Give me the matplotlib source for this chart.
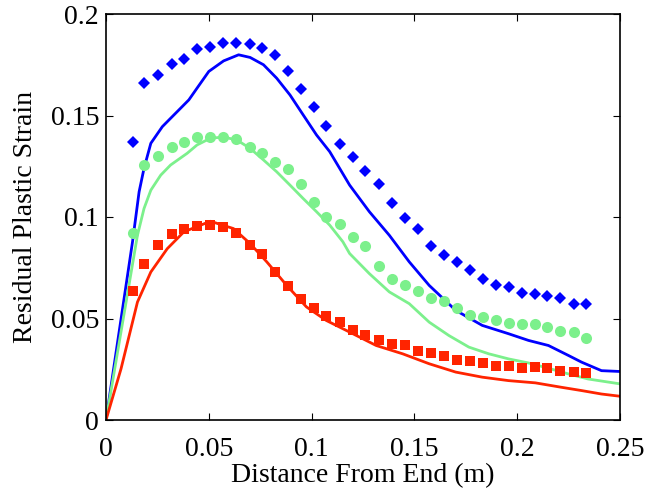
import matplotlib
matplotlib.use('Agg')
import matplotlib.pyplot as plt

plt.rcParams['font.family'] = ['Liberation Serif', 'DejaVu Serif']

# measured points (markers), shared x positions
x_pts = [0.0129, 0.0185, 0.0253, 0.0319, 0.0379, 0.0443, 0.0508, 0.0569, 0.0633,
         0.0698, 0.0758, 0.0820, 0.0883, 0.0948, 0.1012, 0.1072, 0.1136, 0.1201,
         0.1262, 0.1326, 0.1391, 0.1454, 0.1518, 0.1581, 0.1643, 0.1706, 0.1768,
         0.1833, 0.1897, 0.1958, 0.2021, 0.2088, 0.2147, 0.2210, 0.2278, 0.2337]
blue_pts = [0.137, 0.166, 0.170, 0.1755, 0.178, 0.1826, 0.1839, 0.1855, 0.1855,
            0.1850, 0.1832, 0.1797, 0.1717, 0.1633, 0.1541, 0.1450, 0.1358, 0.1294,
            0.1226, 0.1165, 0.1067, 0.0993, 0.0940, 0.0856, 0.0811, 0.0777, 0.0741,
            0.0693, 0.0667, 0.0655, 0.0626, 0.0619, 0.0612, 0.0602, 0.0569, 0.0571]
green_pts = [0.0923, 0.1256, 0.1300, 0.1343, 0.1371, 0.1394, 0.1394, 0.1394, 0.1383,
             0.1347, 0.1317, 0.1273, 0.1238, 0.1165, 0.1075, 0.1001, 0.0964, 0.0900,
             0.0856, 0.0759, 0.0693, 0.0663, 0.0634, 0.0602, 0.0584, 0.0550, 0.0517,
             0.0505, 0.0492, 0.0480, 0.0474, 0.0474, 0.0456, 0.0438, 0.0433, 0.0406]
red_pts = [0.0634, 0.0770, 0.0861, 0.0915, 0.0943, 0.0956, 0.0960, 0.0953, 0.0923,
           0.0861, 0.0820, 0.0729, 0.0660, 0.0594, 0.0553, 0.0510, 0.0485, 0.0444,
           0.0420, 0.0394, 0.0372, 0.0367, 0.0342, 0.0331, 0.0313, 0.0298, 0.0293,
           0.0283, 0.0268, 0.0268, 0.0257, 0.0260, 0.0255, 0.0239, 0.0235, 0.0231]

# simulated curves
blue_x = [0, 0.0129, 0.0161, 0.0185, 0.0218, 0.0274, 0.0314, 0.0363, 0.0403, 0.0443,
          0.0500, 0.0572, 0.0645, 0.0701, 0.0766, 0.0830, 0.0895, 0.0959, 0.1024,
          0.1088, 0.1185, 0.1281, 0.1378, 0.1475, 0.1572, 0.1701, 0.1830, 0.1958,
          0.2055, 0.2152, 0.2249, 0.2313, 0.2410, 0.2500]
blue_y = [0, 0.0878, 0.1124, 0.1240, 0.1363, 0.1445, 0.1486, 0.1536, 0.1577, 0.1635,
          0.1717, 0.1769, 0.1799, 0.1786, 0.1750, 0.1684, 0.1601, 0.1503, 0.1404,
          0.1322, 0.1157, 0.1026, 0.0910, 0.0779, 0.0663, 0.0540, 0.0466, 0.0425,
          0.0392, 0.0367, 0.0318, 0.0285, 0.0243, 0.0239]
green_x = [0, 0.0153, 0.0185, 0.0218, 0.0266, 0.0314, 0.0395, 0.0443, 0.0508, 0.0572,
           0.0637, 0.0701, 0.0766, 0.0830, 0.0895, 0.0959, 0.1024, 0.1088, 0.1152,
           0.1185, 0.1281, 0.1378, 0.1475, 0.1572, 0.1668, 0.1765, 0.1862, 0.1958,
           0.2055, 0.2152, 0.2249, 0.2345, 0.2500]
green_y = [0, 0.0910, 0.1042, 0.1132, 0.1206, 0.1256, 0.1314, 0.1355, 0.1388, 0.1394,
           0.1379, 0.1338, 0.1281, 0.1223, 0.1157, 0.1091, 0.1026, 0.0960, 0.0878,
           0.0820, 0.0721, 0.0631, 0.0573, 0.0482, 0.0416, 0.0359, 0.0326, 0.0301,
           0.0281, 0.0255, 0.0227, 0.0202, 0.0178]
red_x = [0, 0.0073, 0.0153, 0.0218, 0.0298, 0.0379, 0.0508, 0.0620, 0.0701, 0.0782,
         0.0879, 0.0975, 0.1072, 0.1185, 0.1314, 0.1443, 0.1572, 0.1701, 0.1830,
         0.1958, 0.2088, 0.2216, 0.2313, 0.2410, 0.2500]
red_y = [0, 0.0252, 0.0581, 0.0729, 0.0844, 0.0927, 0.0979, 0.0943, 0.0869, 0.0779,
         0.0663, 0.0557, 0.0490, 0.0433, 0.0367, 0.0326, 0.0277, 0.0236, 0.0211,
         0.0194, 0.0183, 0.0161, 0.0145, 0.0128, 0.0117]

BLUE = '#0000ff'
GREEN = '#7cf08c'
RED = '#ff2400'

fig = plt.figure(figsize=(6.6, 4.91), dpi=100)
ax = fig.add_axes([106/660, 1-420/491, (620-106)/660, (420-14)/491])

ax.plot(blue_x, blue_y, color=BLUE, lw=2.0)
ax.plot(green_x, green_y, color=GREEN, lw=2.0)
ax.plot(red_x, red_y, color=RED, lw=2.0)
ax.plot(x_pts, blue_pts, 'D', color=BLUE, ms=6.5, mew=0)
ax.plot(x_pts, green_pts, 'o', color=GREEN, ms=8, mew=0)
ax.plot(x_pts, red_pts, 's', color=RED, ms=7, mew=0)

ax.set_xlim(0, 0.25)
ax.set_ylim(0, 0.2)
ax.set_xticks([0, 0.05, 0.1, 0.15, 0.2, 0.25])
ax.set_xticklabels(['0', '0.05', '0.1', '0.15', '0.2', '0.25'])
ax.set_yticks([0, 0.05, 0.1, 0.15, 0.2])
ax.set_yticklabels(['0', '0.05', '0.1', '0.15', '0.2'])
ax.tick_params(direction='in', top=True, right=True, length=5, width=0.8,
               labelsize=20)
ax.tick_params(axis='x', pad=12)
ax.tick_params(axis='y', pad=5)
for s in ax.spines.values():
    s.set_linewidth(1.2)

ax.set_xlabel('Distance From End (m)', fontsize=20, labelpad=1)
ax.set_ylabel('Residual Plastic Strain', fontsize=20, labelpad=9)

fig.savefig('out.png', dpi=100)
